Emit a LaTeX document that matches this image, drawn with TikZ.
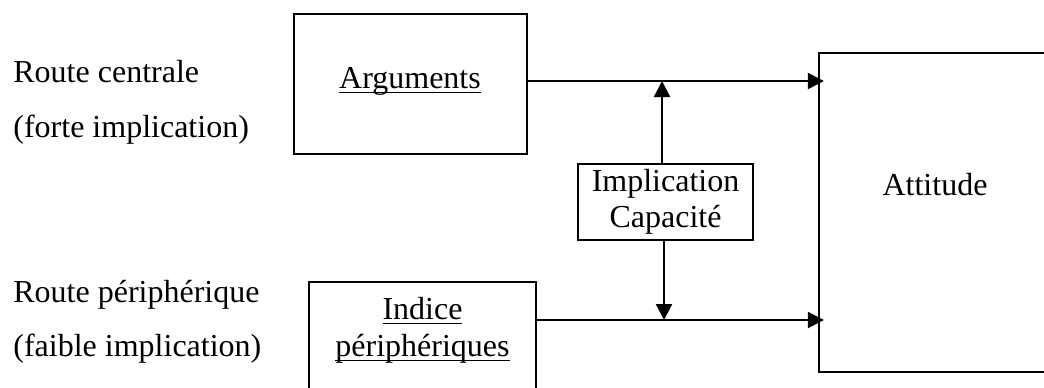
\documentclass[tikz,border=0pt]{standalone}
\usepackage{fontspec}
\setmainfont{Liberation Serif}
\usetikzlibrary{arrows.meta}
\newcommand{\myul}[1]{\setbox0\hbox{#1}\leavevmode\rlap{\raisebox{-2.6pt}{\rule{\wd0}{0.75pt}}}\box0}
\begin{document}
\begin{tikzpicture}[x=0.5pt,y=-0.5pt,
  box/.style={draw=black,line width=1.1pt,inner sep=0pt,fill=none},
  txt/.style={inner sep=0pt,font=\fontsize{16pt}{18pt}\selectfont},
  arr/.style={line width=1.1pt,-{Triangle[length=8pt,width=8pt]}}]
\useasboundingbox (0,0) rectangle (1044,387);
% boxes
\node[box,minimum width=116.5pt,minimum height=70pt] (arg) at (410.5,84) {};
\node[box,minimum width=116pt,minimum height=159.5pt] (att) at (935,212.5) {};
\node[box,minimum width=87.5pt,minimum height=38pt,align=center,
      font=\fontsize{16pt}{18pt}\selectfont] (imp) at (665.5,202) {Implication\\Capacité};
\node[box,minimum width=113.5pt,minimum height=70pt] (ind) at (422.5,317+35) {};
% texts
\node[txt,anchor=base west] (rc1) at (13,82) {Route centrale};
\node[txt,anchor=base west] (rc2) at (13,137) {(forte implication)};
\node[txt,anchor=base west] (rp1) at (13,302) {Route périphérique};
\node[txt,anchor=base west] (rp2) at (13,356) {(faible implication)};
\node[txt,anchor=base] (argt) at (410,88) {\myul{Arguments}};
\node[txt,anchor=base] (attt) at (935,195) {Attitude};
\node[txt,anchor=base] (ind1) at (422.5,319) {\myul{Indice}};
\node[txt,anchor=base] (ind2) at (422.5,356) {\myul{périphériques}};
% reference coordinates
\coordinate (ty) at (0,81);
\coordinate (by) at (0,320);
\coordinate (ux) at (662,0);
\coordinate (dx) at (664,0);
% connectors
\draw[arr,shorten >=-3pt] (arg.east |- ty) -- (att.west |- ty);
\draw[arr,shorten >=-3pt] (ind.east |- by) -- (att.west |- by);
\draw[arr] (imp.north -| ux) -- (ux |- ty);
\draw[arr] (imp.south -| dx) -- (dx |- by);
\end{tikzpicture}
\end{document}
